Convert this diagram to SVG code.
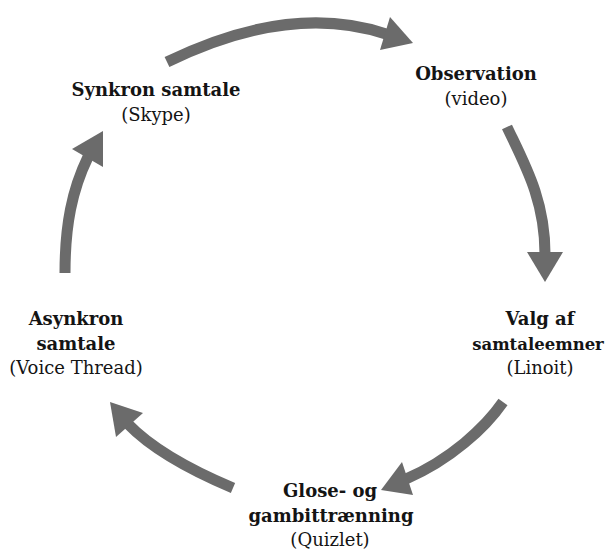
<svg xmlns="http://www.w3.org/2000/svg" width="610" height="553" viewBox="0 0 610 553">
<style>
.t{font-family:"DejaVu Serif","Liberation Serif",serif;font-size:18px;fill:#141414;text-anchor:middle}
.b{font-weight:bold}
.arc{fill:none;stroke:#6b6b6b;stroke-width:11}
.head{fill:#6b6b6b}
</style>
<rect width="610" height="553" fill="#ffffff"/>
<g id="connectors">
<path class="arc" d="M167,62 Q290,2 386,34"/>
<polygon class="head" points="390,17 413,43 380,50"/>
<path class="arc" d="M507,127 C525,165 545,200 545,254"/>
<polygon class="head" points="527,252 563,252 545,282"/>
<path class="arc" d="M503,402 C485,428 450,460 406,479"/>
<polygon class="head" points="402,462 413,495 381,490"/>
<path class="arc" d="M233,488 C195,472 155,452 128,424"/>
<polygon class="head" points="143,413 116,437 110,402"/>
<path class="arc" d="M65,273 C65,225 72,190 88,157"/>
<polygon class="head" points="72,149 103,167 103,131"/>
</g>
<g id="synkron">
<text class="t b" x="156" y="96">Synkron samtale</text>
<text class="t" x="156" y="121">(Skype)</text>
</g>
<g id="observation">
<text class="t b" x="476" y="80">Observation</text>
<text class="t" x="476" y="105">(video)</text>
</g>
<g id="valg">
<text class="t b" x="540" y="325">Valg af</text>
<text class="t b" x="538" y="350" style="font-size:16.5px">samtaleemner</text>
<text class="t" x="540" y="374">(Linoit)</text>
</g>
<g id="glose">
<text class="t b" x="330" y="497">Glose- og</text>
<text class="t b" x="331" y="522">gambittrænning</text>
<text class="t" x="330" y="546">(Quizlet)</text>
</g>
<g id="asynkron">
<text class="t b" x="76" y="325">Asynkron</text>
<text class="t b" x="76" y="350">samtale</text>
<text class="t" x="76" y="374">(Voice Thread)</text>
</g>
</svg>
